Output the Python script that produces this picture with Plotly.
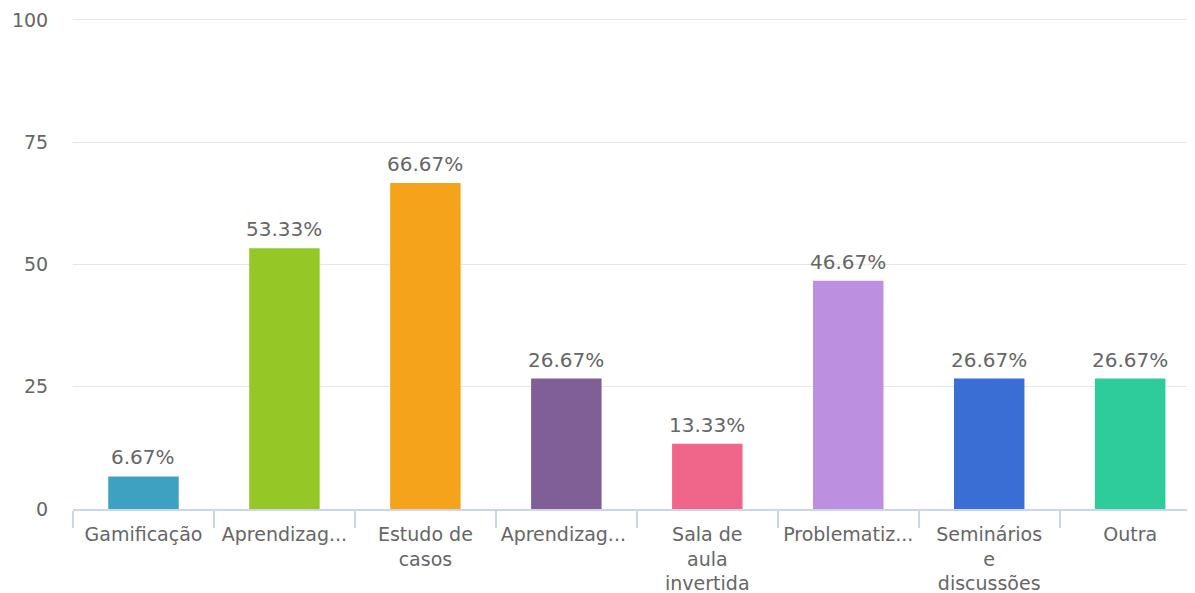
import plotly.graph_objects as go

categorias = [
    "Gamificação",
    "Aprendizag...",
    "Estudo de<br>casos",
    "Aprendizag... ",
    "Sala de<br>aula<br>invertida",
    "Problematiz...",
    "Seminários<br>e<br>discussões",
    "Outra",
]
valores = [6.67, 53.33, 66.67, 26.67, 13.33, 46.67, 26.67, 26.67]
rotulos = ["6.67%", "53.33%", "66.67%", "26.67%", "13.33%", "46.67%", "26.67%", "26.67%"]
cores = ['#3FA1C2', '#95C826', '#F5A31A', '#7F5F95',
         '#F0668A', '#BD8FE0', '#3B6ED4', '#2ECC9B']
y_ticks = [0, 25, 50, 75, 100]

CINZA = '#666666'

fig = go.Figure(go.Bar(
    x=categorias,
    y=valores,
    marker=dict(color=cores, line_width=0),
    hoverinfo='skip',
))

# etiquetas de valor encima de cada barra
for cat, val, txt in zip(categorias, valores, rotulos):
    fig.add_annotation(
        x=cat, y=val, text=txt,
        showarrow=False, yanchor='bottom', yshift=5,
        font=dict(size=20, color=CINZA),
    )

# the page body has an 8px margin, so the figure is sized/offset for it
fig.update_layout(
    width=1187, height=585,
    paper_bgcolor='white',
    plot_bgcolor='white',
    font=dict(family='DejaVu Sans, Verdana, sans-serif', size=19, color=CINZA),
    showlegend=False,
    bargap=0.5,
    margin=dict(l=65, r=0, t=7, b=84, autoexpand=False),
    xaxis=dict(
        range=[-0.5, 7.46],
        automargin=False,
        tickangle=0,
        showgrid=False,
        showline=True, linecolor='#ccd6eb', linewidth=2,
        ticks='outside', tickson='boundaries', ticklen=17,
        tickcolor='#ccd6eb', tickwidth=2,
        ticklabelstandoff=7,
        tickfont=dict(size=19, color=CINZA),
    ),
    yaxis=dict(
        range=[0, 101],
        automargin=False,
        tickvals=y_ticks,
        showgrid=True, gridcolor='#e6e6e6', gridwidth=1,
        zeroline=False,
        ticks='outside', ticklen=20, tickcolor='rgba(0,0,0,0)',
        tickfont=dict(size=19, color=CINZA),
    ),
)

fig.write_html("out.html")
